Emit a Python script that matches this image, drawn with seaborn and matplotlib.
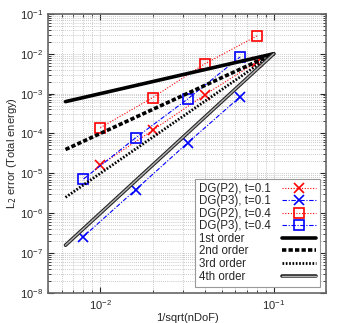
import numpy as np
import pandas as pd
import matplotlib
matplotlib.use("Agg")
import matplotlib.pyplot as plt
import matplotlib.patheffects as pe
import seaborn as sns

# mesh sizes (1/sqrt(nDoF)) and errors
h_p2 = [0.01, 0.02, 0.04, 0.08]
h_p3 = [0.008, 0.016, 0.032, 0.064]
err_p2_t01 = [1.6e-5, 1.2e-4, 9.3e-4, 6.3e-3]
err_p3_t01 = [2.6e-7, 3.9e-6, 5.9e-5, 8.3e-4]
err_p2_t04 = [1.4e-4, 7.9e-4, 5.6e-3, 2.8e-2]
err_p3_t04 = [7.2e-6, 7.8e-5, 7.4e-4, 8.3e-3]

# reference slopes through (0.1, 0.01)
ref_h = [0.0063, 0.1]
ref_err = 0.01
orders = [1, 2, 3, 4]
order_labels = ["1st order", "2nd order", "3rd order", "4th order"]

sns.set_style("ticks")
plt.rcParams['font.family'] = ['Liberation Sans', 'DejaVu Sans']
plt.rcParams['font.size'] = 8

fig = plt.figure(figsize=(3.46, 3.23), dpi=100)
ax = fig.add_axes([0.139, 0.093, 0.803, 0.864])

series = [
    ("DG(P2), t=0.1", h_p2, err_p2_t01, "red", "x", (0, (1, 1.5))),
    ("DG(P3), t=0.1", h_p3, err_p3_t01, "blue", "x", (0, (4, 1.5, 1, 1.5))),
    ("DG(P2), t=0.4", h_p2, err_p2_t04, "red", "s", (0, (1, 1.5))),
    ("DG(P3), t=0.4", h_p3, err_p3_t04, "blue", "s", (0, (4, 1.5, 1, 1.5))),
]
for label, h, e, c, m, ls in series:
    df = pd.DataFrame({"h": h, "err": e})
    sns.lineplot(data=df, x="h", y="err", ax=ax, color=c, marker=m, linestyle=ls,
                 lw=0.8, markersize=7, markerfacecolor="none", markeredgecolor=c,
                 markeredgewidth=1.2, label=label)

ref_styles = [
    dict(lw=2.6, linestyle="-", color="black"),
    dict(lw=2.6, linestyle=(0, (1.2, 0.6)), color="black"),
    dict(lw=2.0, linestyle=(0, (0.6, 0.6)), color="black"),
    dict(lw=1.0, linestyle="-", color="0.7",
         path_effects=[pe.Stroke(linewidth=2.6, foreground="0.15"), pe.Normal()]),
]
for p, lab, st in zip(orders, order_labels, ref_styles):
    df = pd.DataFrame({"h": ref_h, "err": [ref_err * (x / 0.1) ** p for x in ref_h]})
    sns.lineplot(data=df, x="h", y="err", ax=ax, label=lab, **st)

ax.set_xscale("log")
ax.set_yscale("log")
ax.set_xlim(0.005, 0.2)
ax.set_ylim(1e-8, 1e-1)
ax.set_xticks([1e-2, 1e-1])
ax.set_yticks([10.0 ** k for k in range(-8, 0)])
ax.grid(True, which="both", color="0.72", linestyle=(0, (1, 1.5)), lw=0.6)
ax.tick_params(which="both", direction="in", top=True, right=True, labelsize=8)
ax.tick_params(which="major", length=4)
ax.tick_params(which="minor", length=2)
for s in ax.spines.values():
    s.set_color("0.4")
    s.set_linewidth(1.2)

ax.set_xlabel("1/sqrt(nDoF)", labelpad=1)
ax.set_ylabel("L$_2$ error (Total energy)", labelpad=1)

leg = ax.legend(loc="lower right", markerfirst=False, fontsize=8.3, frameon=True,
                fancybox=False, edgecolor="0.6", framealpha=1, handlelength=2.9,
                handletextpad=1.0, labelspacing=0.05, borderpad=0.35,
                borderaxespad=0.55)
leg.get_frame().set_linewidth(0.8)

# left-align the labels while keeping the line samples on the right
fig.canvas.draw()
renderer = fig.canvas.get_renderer()
items = [it for col in leg._legend_handle_box.get_children() for it in col.get_children()]
w = max(it.get_bbox(renderer).width for it in items)
for it in items:
    it.mode = "expand"
    it.width = w

fig.savefig("out.png", dpi=100)
